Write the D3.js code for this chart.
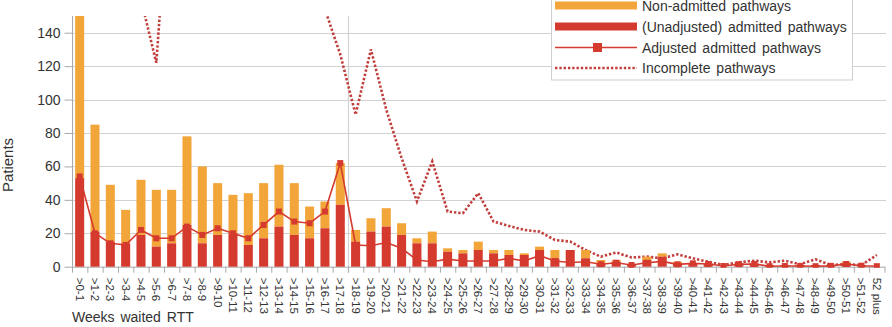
<!DOCTYPE html>
<html>
<head>
<meta charset="utf-8">
<script src="https://cdn.jsdelivr.net/npm/d3@7/dist/d3.min.js"></script>
<style>
  html, body { margin: 0; padding: 0; background: #fff; }
  svg { display: block; font-family: "Liberation Sans", Arial, Helvetica, sans-serif; }
</style>
</head>
<body>
<svg id="chart" width="892" height="327"></svg>
<script>
// Weeks waited, referral to treatment
const categories = [">0-1", ">1-2", ">2-3", ">3-4", ">4-5", ">5-6", ">6-7", ">7-8", ">8-9", ">9-10",
  ">10-11", ">11-12", ">12-13", ">13-14", ">14-15", ">15-16", ">16-17", ">17-18", ">18-19", ">19-20",
  ">20-21", ">21-22", ">22-23", ">23-24", ">24-25", ">25-26", ">26-27", ">27-28", ">28-29", ">29-30",
  ">30-31", ">31-32", ">32-33", ">33-34", ">34-35", ">35-36", ">36-37", ">37-38", ">38-39", ">39-40",
  ">40-41", ">41-42", ">42-43", ">43-44", ">44-45", ">45-46", ">46-47", ">47-48", ">48-49", ">49-50",
  ">50-51", ">51-52", "52 plus"];

// (Unadjusted) admitted pathways
const admitted = [53, 21, 15, 14, 19, 12, 14, 25, 14, 19,
  20, 13, 17, 24, 19, 17, 23, 37, 15, 21,
  24, 19, 14, 14, 9, 8, 10, 8, 7, 7,
  10, 5, 10, 5, 2, 3, 1, 4, 6, 2,
  2, 2, 0, 2, 2, 1, 1, 1, 1, 1,
  2, 1, 0];

// Non-admitted pathways (stacked above admitted)
const nonAdmitted = [97, 64, 34, 20, 33, 34, 32, 53, 46, 31,
  23, 31, 33, 37, 31, 19, 16, 25, 7, 8,
  11, 7, 3, 7, 2, 2, 5, 2, 3, 1,
  2, 5, 0, 5, 2, 1, 0, 2, 2, 1,
  0, 0, 0, 0, 0, 0, 0, 0, 0, 0,
  1, 0, 0];

// Adjusted admitted pathways
const adjusted = [54, 20, 14, 13, 22, 17, 17, 24, 19, 23,
  20, 17, 25, 33, 27, 26, 33, 62, 13, 12.5,
  14.5, 11, 4, 3, 4.5, 3.4, 3.4, 3.4, 5, 3.4,
  6.6, 3.4, 2.5, 3, 1.5, 2.4, 1, 2.4, 3.2, 1.4,
  2, 1.6, 0.4, 1.5, 1.6, 0.3, 0.4, 0.4, 0.3, 0.5,
  1.6, 0.6, 0.3];

// Incomplete pathways
const incomplete = [300, 260, 220, 190, 160, 122, 250, 245, 235, 225,
  215, 205, 195, 185, 172, 162, 154, 127, 91, 130,
  94, 65, 39, 63, 33, 32, 44, 27, 24.4, 22,
  21, 16, 15, 10, 6, 8.5, 5.5, 6, 5, 7.4,
  5, 3, 1, 2.6, 3.6, 2.6, 3.6, 1.5, 4.4, 1,
  1.5, 1, 7];

const yTicks = [0, 20, 40, 60, 80, 100, 120, 140];
const legendItems = ["Non-admitted pathways", "(Unadjusted) admitted pathways", "Adjusted admitted pathways", "Incomplete pathways"];

const ORANGE = "#f2a63a";
const RED = "#d53a2f";
const DOT = "#c1403e";
const GRID = "#d2d2d2";
const AXIS = "#a9a9a9";
const TEXT = "#333";

const svg = d3.select("#chart");
const plotLeft = 72, plotRight = 884.5, plotTop = 16, plotBottom = 266.7;

const x = d3.scaleBand().domain(categories).range([plotLeft, plotRight])
  .paddingInner(0.41).paddingOuter(0.205);
const edge = d3.scaleLinear().domain([0, categories.length]).range([plotLeft, plotRight]);
const y = d3.scaleLinear().domain([0, 150]).range([plotBottom, plotTop]);
const cx = d => x(d) + x.bandwidth() / 2;

svg.append("defs").append("clipPath").attr("id", "plot")
  .append("rect").attr("x", plotLeft).attr("y", plotTop)
  .attr("width", 886 - plotLeft).attr("height", plotBottom - plotTop + 1);

// horizontal grid
svg.append("g").selectAll("line").data(yTicks.filter(t => t > 0)).join("line")
  .attr("x1", plotLeft).attr("x2", 886)
  .attr("y1", d => Math.round(y(d)) + 0.5).attr("y2", d => Math.round(y(d)) + 0.5)
  .attr("stroke", GRID).attr("stroke-width", 1);

// 18-week marker
svg.append("line")
  .attr("x1", Math.round(edge(18)) + 0.5).attr("x2", Math.round(edge(18)) + 0.5)
  .attr("y1", plotTop).attr("y2", plotBottom + 6)
  .attr("stroke", GRID).attr("stroke-width", 1.2);

// y axis
const yAxis = svg.append("g").attr("transform", `translate(${plotLeft + 0.5},0)`)
  .call(d3.axisLeft(y).tickValues(yTicks).tickSize(8).tickPadding(4).tickSizeOuter(0));
yAxis.select(".domain").attr("stroke", AXIS).attr("d", `M0,${plotTop}V${plotBottom}`);
yAxis.selectAll(".tick line").attr("stroke", AXIS);
yAxis.selectAll(".tick text").attr("fill", TEXT).style("font-size", "14px").attr("x", -12);

// x axis: ticks on band edges
const xEdges = svg.append("g").attr("transform", `translate(0,${plotBottom})`)
  .call(d3.axisBottom(edge).tickValues(d3.range(0, categories.length + 1)).tickSize(6).tickFormat(() => "").tickSizeOuter(0));
xEdges.select(".domain").attr("stroke", AXIS);
xEdges.selectAll(".tick line").attr("stroke", AXIS);

// x axis: rotated category labels
const xLabels = svg.append("g").attr("transform", `translate(0,${plotBottom})`)
  .call(d3.axisBottom(x).tickSize(0).tickPadding(0));
xLabels.select(".domain").remove();
xLabels.selectAll(".tick text")
  .attr("transform", "rotate(90)")
  .attr("x", 11).attr("y", 0).attr("dy", "0.35em")
  .style("text-anchor", "start").style("font-size", "11.5px").attr("fill", TEXT);

const plot = svg.append("g").attr("clip-path", "url(#plot)");

// incomplete pathways (dotted)
plot.append("path").datum(incomplete)
  .attr("fill", "none").attr("stroke", DOT).attr("stroke-width", 2.6)
  .attr("stroke-dasharray", "2.4,1.9")
  .attr("d", d3.line().x((d, i) => cx(categories[i])).y(d => y(d)));

// stacked bars
plot.append("g").selectAll("rect").data(categories).join("rect")
  .attr("x", d => x(d)).attr("width", x.bandwidth())
  .attr("y", (d, i) => y(admitted[i] + nonAdmitted[i]))
  .attr("height", (d, i) => y(admitted[i]) - y(admitted[i] + nonAdmitted[i]))
  .attr("fill", ORANGE);
plot.append("g").selectAll("rect").data(categories).join("rect")
  .attr("x", d => x(d)).attr("width", x.bandwidth())
  .attr("y", (d, i) => y(admitted[i]))
  .attr("height", (d, i) => y(0) - y(admitted[i]))
  .attr("fill", RED);

// adjusted admitted pathways
plot.append("path").datum(adjusted)
  .attr("fill", "none").attr("stroke", RED).attr("stroke-width", 1.6)
  .attr("d", d3.line().x((d, i) => cx(categories[i])).y(d => y(d)));
plot.append("g").selectAll("rect").data(adjusted).join("rect")
  .attr("x", (d, i) => cx(categories[i]) - 3).attr("y", d => y(d) - 3)
  .attr("width", 6).attr("height", 6).attr("fill", RED);

// axis titles
svg.append("text").attr("transform", "translate(13,165) rotate(-90)")
  .attr("text-anchor", "middle").attr("fill", TEXT).style("font-size", "15px").text("Patients");
svg.append("text").attr("x", 72).attr("y", 322)
  .attr("fill", TEXT).style("font-size", "14px").style("word-spacing", "2px").text("Weeks waited RTT");

// legend
const lg = svg.append("g");
lg.append("rect").attr("x", 551.5).attr("y", -3).attr("width", 301).attr("height", 83)
  .attr("fill", "#fff").attr("stroke", "#cfcfcf");
const rowY = [5.5, 26.5, 47.5, 68];
lg.append("rect").attr("x", 555).attr("y", rowY[0] - 4).attr("width", 82).attr("height", 8).attr("fill", ORANGE);
lg.append("rect").attr("x", 555).attr("y", rowY[1] - 4).attr("width", 82).attr("height", 8).attr("fill", RED);
lg.append("line").attr("x1", 555).attr("x2", 637).attr("y1", rowY[2]).attr("y2", rowY[2])
  .attr("stroke", RED).attr("stroke-width", 1.6);
lg.append("rect").attr("x", 593).attr("y", rowY[2] - 4.5).attr("width", 9).attr("height", 9).attr("fill", RED);
lg.append("line").attr("x1", 555).attr("x2", 637).attr("y1", rowY[3]).attr("y2", rowY[3])
  .attr("stroke", DOT).attr("stroke-width", 2.6).attr("stroke-dasharray", "2.4,1.9");
lg.selectAll("text.item").data(legendItems).join("text").attr("class", "item")
  .attr("x", 642).attr("y", (d, i) => rowY[i] + 5)
  .attr("fill", TEXT).style("font-size", "14px").style("word-spacing", "2px").text(d => d);
</script>
</body>
</html>
